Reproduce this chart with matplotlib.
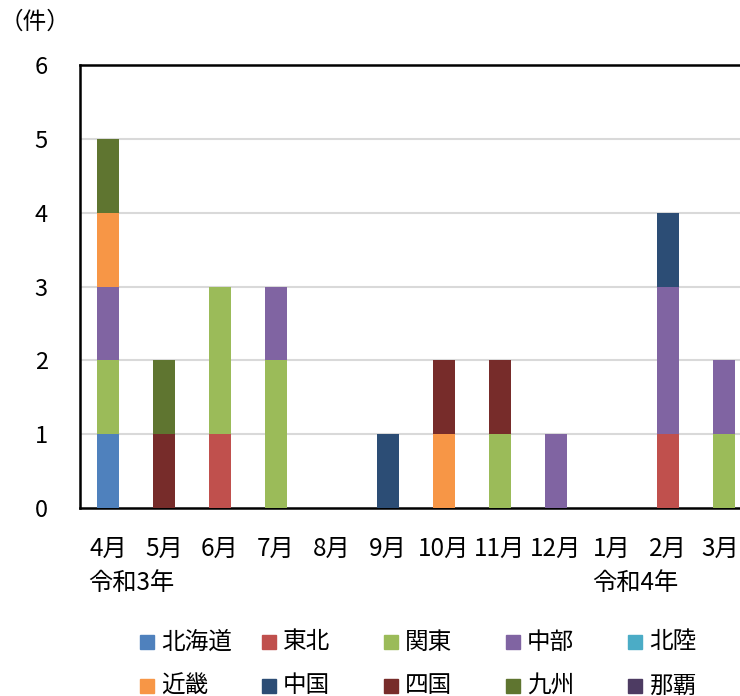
import matplotlib.pyplot as plt
import matplotlib.transforms as mtransforms
import numpy as np

plt.rcParams['font.family'] = ['Noto Sans CJK JP', 'DejaVu Sans']

months = ['4月', '5月', '6月', '7月', '8月', '9月', '10月', '11月', '12月', '1月', '2月', '3月']
regions = ['北海道', '東北', '関東', '中部', '北陸', '近畿', '中国', '四国', '九州', '那覇']
colors = ['#4F81BD', '#C0504D', '#9BBB59', '#8064A2', '#4BACC6',
          '#F79646', '#2C4D75', '#772C2A', '#5F7530', '#4D3B62']

# monthly case counts per region (令和3年4月 - 令和4年3月)
hokkaido = [1, 0, 0, 0, 0, 0, 0, 0, 0, 0, 0, 0]
tohoku   = [0, 0, 1, 0, 0, 0, 0, 0, 0, 0, 1, 0]
kanto    = [1, 0, 2, 2, 0, 0, 0, 1, 0, 0, 0, 1]
chubu    = [1, 0, 0, 1, 0, 0, 0, 0, 1, 0, 2, 1]
hokuriku = [0, 0, 0, 0, 0, 0, 0, 0, 0, 0, 0, 0]
kinki    = [1, 0, 0, 0, 0, 0, 1, 0, 0, 0, 0, 0]
chugoku  = [0, 0, 0, 0, 0, 1, 0, 0, 0, 0, 1, 0]
shikoku  = [0, 1, 0, 0, 0, 0, 1, 1, 0, 0, 0, 0]
kyushu   = [1, 1, 0, 0, 0, 0, 0, 0, 0, 0, 0, 0]
naha     = [0, 0, 0, 0, 0, 0, 0, 0, 0, 0, 0, 0]
series = [hokkaido, tohoku, kanto, chubu, hokuriku, kinki, chugoku, shikoku, kyushu, naha]

W, H = 740, 696
fig = plt.figure(figsize=(W / 100, H / 100), dpi=100)
ax = fig.add_axes([80 / W, 1 - 508 / H, 672 / W, 443 / H])

x = np.arange(len(months))
bottom = np.zeros(len(months))
for vals, c in zip(series, colors):
    vals = np.array(vals)
    ax.bar(x, vals, width=0.41, bottom=bottom, color=c, zorder=3)
    bottom += vals

ax.set_xlim(-0.5, len(months) - 0.5)
ax.set_ylim(0, 6)
ax.set_yticks(range(7))
ax.set_xticks(x)
ax.set_xticklabels(months)
ax.tick_params(axis='both', length=0)
ax.tick_params(axis='x', pad=20, labelsize=17.5)
ax.tick_params(axis='y', pad=28, labelsize=17)
for lab in ax.get_yticklabels():
    lab.set_horizontalalignment('center')
# nudge the last month label so it stays inside the figure
last = ax.get_xticklabels()[-1]
last.set_transform(last.get_transform()
                   + mtransforms.ScaledTranslation(-4 / 100, 0, fig.dpi_scale_trans))
for y in range(1, 6):
    ax.axhline(y, color='#D9D9D9', lw=1.5, zorder=1)
for s in ['left', 'bottom', 'top']:
    ax.spines[s].set_linewidth(1.8)
    ax.spines[s].set_color('black')
ax.spines['right'].set_visible(False)

# fiscal year labels under the month ticks
ax.text(-0.36, -1.01, '令和3年', fontsize=17.5, ha='left', va='center')
ax.text(9.42, -1.01, '令和4年', fontsize=17.5, ha='center', va='center')
fig.text(35 / W, 1 - 22 / H, '（件）', fontsize=17, ha='center', va='center')

# legend laid out as an equal-width 5x2 grid
for i, (name, c) in enumerate(zip(regions, colors)):
    col, row = i % 5, i // 5
    x0 = (140 + col * 122) / W
    yc = 1 - (642 + row * 44) / H
    fig.patches.append(plt.Rectangle((x0, yc - 7 / H), 14 / W, 14 / H,
                                     transform=fig.transFigure, color=c))
    fig.text(x0 + 21 / W, yc, name, fontsize=17, ha='left', va='center')

fig.savefig('out.png', dpi=100)
